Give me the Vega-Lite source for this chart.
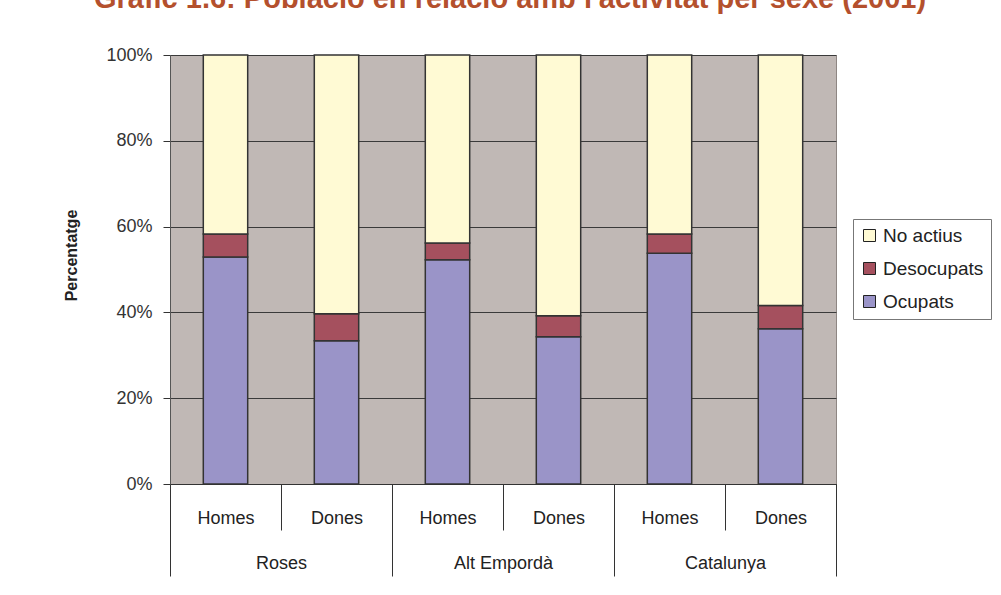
{
  "$schema": "https://vega.github.io/schema/vega-lite/v6.json",
  "width": 666,
  "height": 429,
  "autosize": {"type": "none"},
  "padding": {"left": 170, "top": 55, "right": 165, "bottom": 111},
  "background": "white",
  "title": {
    "text": "Gràfic 1.6: Població en relació amb l'activitat per sexe (2001)",
    "font": "Liberation Sans",
    "fontSize": 29,
    "fontWeight": "bold",
    "color": "#b4502d",
    "anchor": "middle",
    "frame": "group",
    "baseline": "alphabetic",
    "offset": 9,
    "dx": 7
  },
  "config": {
    "view": {"fill": "#c0b8b5", "stroke": "#8e8683", "strokeWidth": 1},
    "font": "Liberation Sans"
  },
  "data": {
    "values": [
      {"key": "Homes|Roses", "region": "Roses", "status": "Ocupats", "ord": 1, "value": 52.9},
      {"key": "Homes|Roses", "region": "Roses", "status": "Desocupats", "ord": 2, "value": 5.4},
      {"key": "Homes|Roses", "region": "Roses", "status": "No actius", "ord": 3, "value": 41.7},
      {"key": "Dones|Roses", "region": "Roses", "status": "Ocupats", "ord": 1, "value": 33.4},
      {"key": "Dones|Roses", "region": "Roses", "status": "Desocupats", "ord": 2, "value": 6.3},
      {"key": "Dones|Roses", "region": "Roses", "status": "No actius", "ord": 3, "value": 60.3},
      {"key": "Homes|Alt Empordà", "region": "Alt Empordà", "status": "Ocupats", "ord": 1, "value": 52.3},
      {"key": "Homes|Alt Empordà", "region": "Alt Empordà", "status": "Desocupats", "ord": 2, "value": 3.9},
      {"key": "Homes|Alt Empordà", "region": "Alt Empordà", "status": "No actius", "ord": 3, "value": 43.8},
      {"key": "Dones|Alt Empordà", "region": "Alt Empordà", "status": "Ocupats", "ord": 1, "value": 34.3},
      {"key": "Dones|Alt Empordà", "region": "Alt Empordà", "status": "Desocupats", "ord": 2, "value": 4.9},
      {"key": "Dones|Alt Empordà", "region": "Alt Empordà", "status": "No actius", "ord": 3, "value": 60.8},
      {"key": "Homes|Catalunya", "region": "Catalunya", "status": "Ocupats", "ord": 1, "value": 53.8},
      {"key": "Homes|Catalunya", "region": "Catalunya", "status": "Desocupats", "ord": 2, "value": 4.5},
      {"key": "Homes|Catalunya", "region": "Catalunya", "status": "No actius", "ord": 3, "value": 41.7},
      {"key": "Dones|Catalunya", "region": "Catalunya", "status": "Ocupats", "ord": 1, "value": 36.2},
      {"key": "Dones|Catalunya", "region": "Catalunya", "status": "Desocupats", "ord": 2, "value": 5.4},
      {"key": "Dones|Catalunya", "region": "Catalunya", "status": "No actius", "ord": 3, "value": 58.4}
    ]
  },
  "resolve": {"scale": {"x": "independent"}},
  "layer": [
    {
      "mark": {"type": "bar", "stroke": "#333333", "strokeWidth": 1.5, "width": {"band": 0.4}},
      "encoding": {
        "x": {
          "field": "key",
          "type": "nominal",
          "sort": null,
          "scale": {"type": "band", "paddingInner": 0, "paddingOuter": 0},
          "axis": {
            "orient": "bottom",
            "title": null,
            "grid": false,
            "domain": true,
            "domainColor": "#333333",
            "domainWidth": 1,
            "ticks": true,
            "tickBand": "extent",
            "tickSize": 46,
            "tickColor": "#333333",
            "tickWidth": 1,
            "labelAngle": 0,
            "labelExpr": "split(datum.label, '|')[0]",
            "labelFontSize": 18,
            "labelColor": "#222222",
            "labelPadding": -21
          }
        },
        "y": {
          "field": "value",
          "type": "quantitative",
          "stack": "zero",
          "scale": {"domain": [0, 100], "nice": false},
          "axis": {
            "orient": "left",
            "values": [0, 20, 40, 60, 80, 100],
            "labelExpr": "datum.value + '%'",
            "grid": true,
            "gridColor": "#3a3a3a",
            "gridWidth": 1,
            "domain": true,
            "domainColor": "#555555",
            "ticks": true,
            "tickSize": 7,
            "tickColor": "#333333",
            "labelFontSize": 18,
            "labelColor": "#333333",
            "labelPadding": 11,
            "title": "Percentatge",
            "titleFontSize": 16,
            "titleFontWeight": "bold",
            "titleColor": "#222222",
            "titlePadding": 26,
            "titleY": 200
          }
        },
        "color": {
          "field": "status",
          "type": "nominal",
          "scale": {
            "domain": ["No actius", "Desocupats", "Ocupats"],
            "range": ["#fffad4", "#a5505e", "#9a94c8"]
          },
          "legend": {
            "orient": "none",
            "legendX": 683,
            "legendY": 164,
            "title": null,
            "fillColor": "white",
            "strokeColor": "#777777",
            "padding": 7,
            "symbolType": "square",
            "symbolSize": 144,
            "symbolStrokeColor": "#222222",
            "symbolStrokeWidth": 1,
            "symbolOpacity": 1,
            "labelFontSize": 19,
            "labelColor": "#222222",
            "labelOffset": 4,
            "rowPadding": 13
          }
        },
        "order": {"field": "ord", "type": "quantitative"}
      }
    },
    {
      "mark": {"type": "rule", "opacity": 0},
      "encoding": {
        "x": {
          "field": "region",
          "type": "nominal",
          "sort": null,
          "scale": {"type": "band", "paddingInner": 0, "paddingOuter": 0},
          "axis": {
            "orient": "bottom",
            "title": null,
            "grid": false,
            "domain": false,
            "ticks": true,
            "tickBand": "extent",
            "tickSize": 92,
            "tickColor": "#333333",
            "tickWidth": 1,
            "labelAngle": 0,
            "labelFontSize": 18,
            "labelColor": "#222222",
            "labelPadding": -22
          }
        }
      }
    }
  ]
}
